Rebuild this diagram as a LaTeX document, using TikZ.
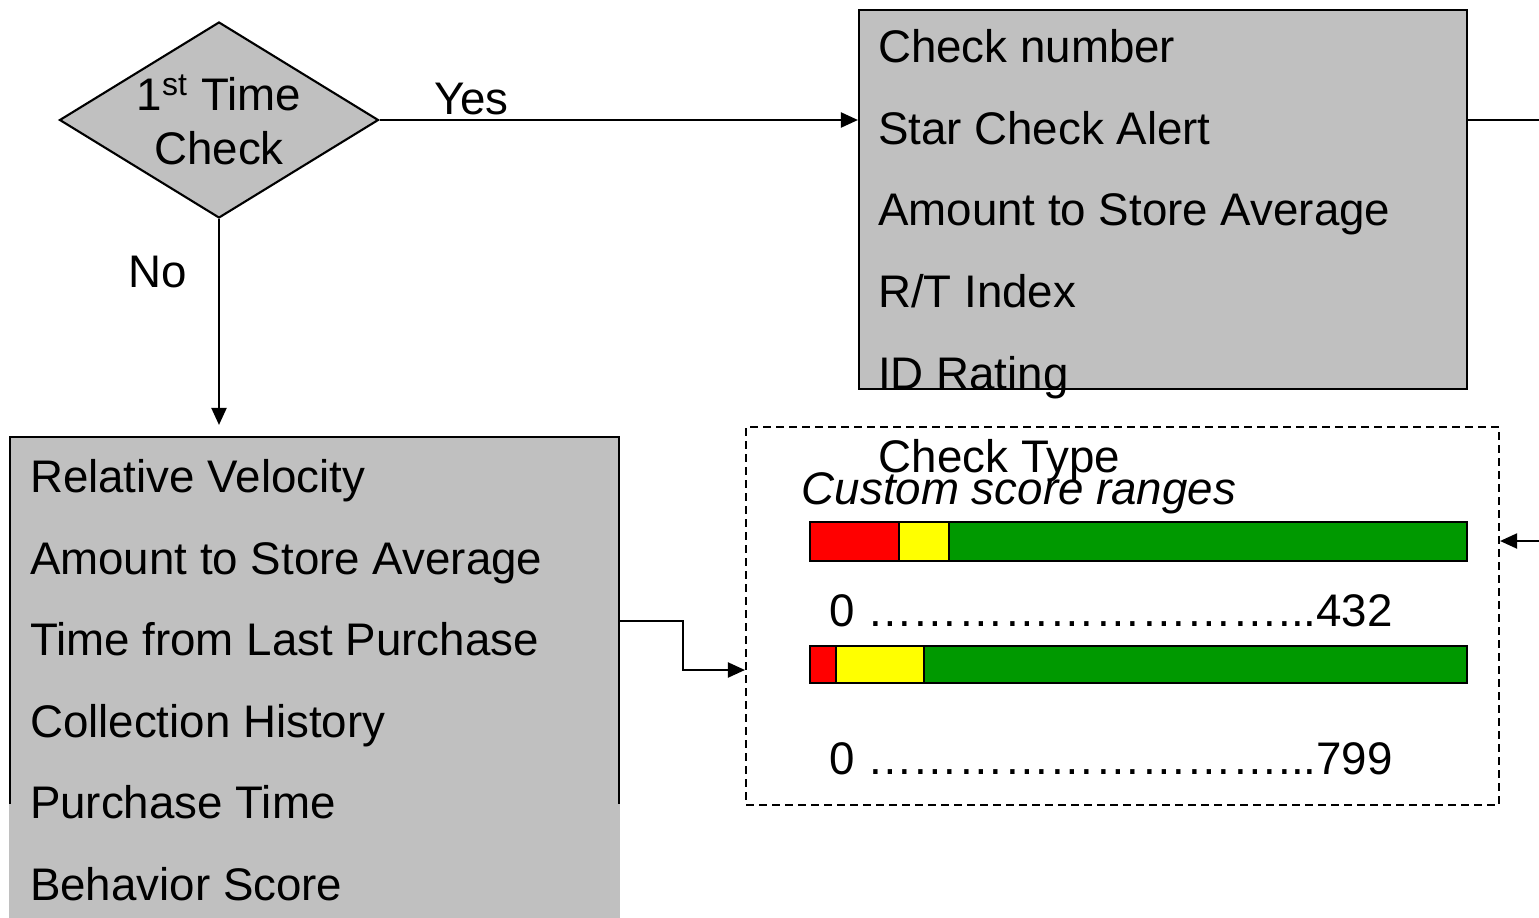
\documentclass[tikz,border=0pt]{standalone}
\usepackage{fontspec}
\setmainfont{Liberation Sans}
\usepackage{xcolor}
\definecolor{boxgray}{RGB}{192,192,192}
\definecolor{barred}{RGB}{255,0,0}
\definecolor{baryellow}{RGB}{255,255,0}
\definecolor{bargreen}{RGB}{0,153,0}
\usetikzlibrary{shapes.geometric,arrows.meta,positioning}

\begin{document}
\begin{tikzpicture} [ % styles
            semithick, >={Triangle[length=0.17cm,width=0.15cm]},
            font=\fontsize{13}{15.4}\selectfont,
            dec/.style = {diamond, aspect=1.63, inner sep=0pt, minimum width=3.19cm, minimum height=1.96cm, draw, fill=boxgray, align=center},
            rec/.style = {rectangle, draw, fill=boxgray},
            rec2/.style = {rectangle, draw, dashed, dash pattern=on 0.08cm off 0.05cm},
            bar/.style = {rectangle, draw, inner sep=0pt, outer sep=0pt},
            txt/.style = {inner sep=0pt, anchor=base west},
            lbl/.style = {inner sep=0pt, anchor=base}
        ]
        \useasboundingbox (0,0) rectangle (15.39,9.17);

        % decision
        \node [dec] (chk) at (2.19,7.97) {1\textsuperscript{st} Time\\Check};
        \node [lbl] (yes) at (4.715,8.02) {Yes};
        \node [lbl] (no) at (1.575,6.30) {No};

        % upper box
        \node [rec, minimum width=6.08cm, minimum height=3.79cm] (feat1) at (11.63,7.175) {};
        \node [txt] (f1a) at (8.77,8.55) {Check number};
        \node [txt] (f1b) at (8.77,7.73) {Star Check Alert};
        \node [txt] (f1c) at (8.77,6.92) {Amount to Store Average};
        \node [txt] (f1d) at (8.77,6.10) {R/T Index};
        \node [txt] (f1e) at (8.77,5.28) {ID Rating};

        % lower box
        \node [rec, minimum width=6.09cm, minimum height=3.68cm] (feat2) at (3.145,2.96) {};
        \fill [boxgray] ([yshift=0.02cm]feat2.south west) rectangle ([yshift=-1.2cm]feat2.south east);
        \node [txt] (f2a) at (0.29,4.25) {Relative Velocity};
        \node [txt] (f2b) at (0.29,3.43) {Amount to Store Average};
        \node [txt] (f2c) at (0.29,2.62) {Time from Last Purchase};
        \node [txt] (f2d) at (0.29,1.80) {Collection History};
        \node [txt] (f2e) at (0.29,0.99) {Purchase Time};
        \node [txt] (f2f) at (0.29,0.17) {Behavior Score};

        % score ranges
        \node [rec2, minimum width=7.53cm, minimum height=3.78cm] (score) at (11.225,3.01) {};
        \node [lbl] (ctype) at (9.995,4.45) {Check Type};
        \node [lbl] (crange) at (10.19,4.13) {\itshape Custom score ranges};

        \node [bar, fill=barred, minimum width=0.89cm, minimum height=0.39cm, anchor=west] (b1r) at (8.10,3.755) {};
        \node [bar, fill=baryellow, minimum width=0.50cm, minimum height=0.39cm, right=0pt of b1r] (b1y) {};
        \node [bar, fill=bargreen, minimum width=5.18cm, minimum height=0.39cm, right=0pt of b1y] (b1g) {};
        \node [txt] (s1) at (8.28,2.91) {0 ………………………...432};

        \node [bar, fill=barred, minimum width=0.26cm, minimum height=0.37cm, anchor=west] (b2r) at (8.10,2.525) {};
        \node [bar, fill=baryellow, minimum width=0.88cm, minimum height=0.37cm, right=0pt of b2r] (b2y) {};
        \node [bar, fill=bargreen, minimum width=5.43cm, minimum height=0.37cm, right=0pt of b2y] (b2g) {};
        \node [txt] (s2) at (8.28,1.43) {0 ………………………...799};

        % edge points
        \coordinate (outA) at (15.39,7.97);
        \coordinate (inB) at (15.39,3.76);

        % connectors
        \draw [->] (chk.east) -- (chk.east -| feat1.west);
        \draw [->, shorten >=0.11cm] (chk.south) -- (chk.south |- feat2.north);
        \draw (feat1.east |- chk.east) -- (outA);
        \draw [->] (inB) -- (inB -| score.east);
        \draw [->] (feat2.east) -- ++(0.63,0) |- ([yshift=-0.54cm]score.west);

    \end{tikzpicture}
\end{document}
